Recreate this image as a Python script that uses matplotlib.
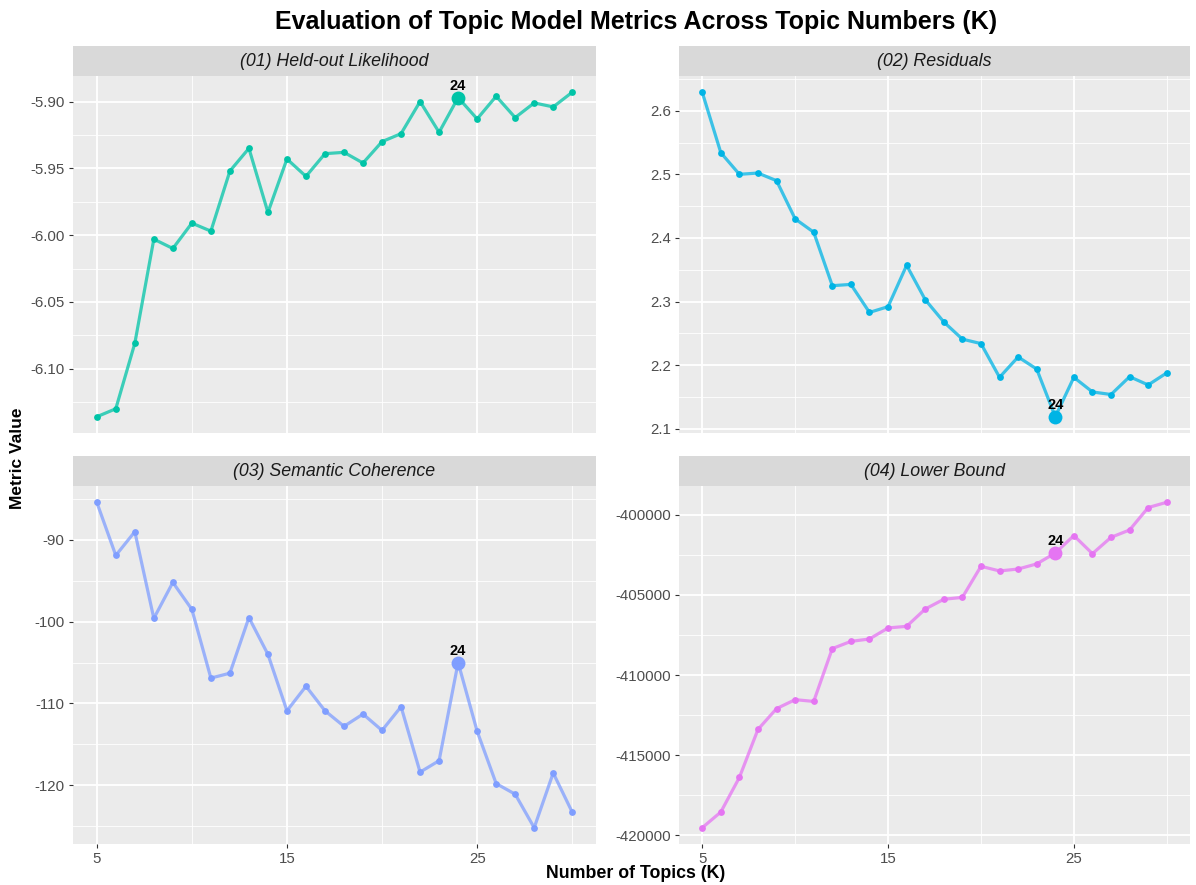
import numpy as np
import matplotlib
matplotlib.use("Agg")
import matplotlib.pyplot as plt
from matplotlib.ticker import FixedLocator, FuncFormatter

plt.rcParams['font.family'] = ['Liberation Sans', 'DejaVu Sans']

# ---- data ----
topics_k = list(range(5, 31))

heldout_likelihood = [-6.136, -6.130, -6.081, -6.003, -6.010, -5.991, -5.997, -5.952,
                      -5.935, -5.983, -5.943, -5.956, -5.939, -5.938, -5.946, -5.930,
                      -5.924, -5.900, -5.923, -5.897, -5.913, -5.896, -5.912, -5.901,
                      -5.904, -5.893]

residuals = [2.629, 2.534, 2.500, 2.502, 2.490, 2.430, 2.409, 2.325, 2.327, 2.283,
             2.292, 2.357, 2.303, 2.268, 2.241, 2.234, 2.181, 2.213, 2.194, 2.119,
             2.181, 2.158, 2.154, 2.182, 2.169, 2.188]

semantic_coherence = [-85.4, -91.9, -89.0, -99.6, -95.2, -98.5, -106.9, -106.3, -99.5,
                      -104.0, -110.9, -107.9, -110.9, -112.8, -111.3, -113.3, -110.4,
                      -118.4, -117.0, -105.0, -113.4, -119.8, -121.1, -125.2, -118.5,
                      -123.3]

lower_bound = [-419540, -418560, -416400, -413400, -412100, -411540, -411650, -408350,
               -407900, -407750, -407060, -406960, -405880, -405270, -405150, -403210,
               -403500, -403380, -403060, -402380, -401290, -402420, -401400, -400940,
               -399540, -399210]

panel_titles = ["(01) Held-out Likelihood", "(02) Residuals",
                "(03) Semantic Coherence", "(04) Lower Bound"]
panel_colors = ["#00C4A7", "#00B4E5", "#7F9EFF", "#E575F2"]
chosen_k = 24

y_major = [
    [-6.10, -6.05, -6.00, -5.95, -5.90],
    [2.1, 2.2, 2.3, 2.4, 2.5, 2.6],
    [-120, -110, -100, -90],
    [-420000, -415000, -410000, -405000, -400000],
]
y_fmt = ["{:.2f}", "{:.1f}", "{:.0f}", "{:.0f}"]
x_major = [5, 15, 25]
x_minor = [10, 20, 30]

series = [heldout_likelihood, residuals, semantic_coherence, lower_bound]

# ---- layout (pixel positions converted to figure fractions) ----
W, H = 1196, 885
fig = plt.figure(figsize=(W / 100, H / 100), dpi=100)
fig.patch.set_facecolor("white")

cols = [(73, 596), (679, 1190)]
rows = [(76, 433, 46), (486, 844, 456)]  # panel top, panel bottom, strip top

grey_panel = "#EBEBEB"
strip_grey = "#D9D9D9"


def expand(lo, hi, frac=0.05):
    span = hi - lo
    return lo - frac * span, hi + frac * span


for i, (vals, title, color) in enumerate(zip(series, panel_titles, panel_colors)):
    r, c = divmod(i, 2)
    x0, x1 = cols[c]
    ptop, pbot, stop = rows[r]
    ax = fig.add_axes([x0 / W, 1 - pbot / H, (x1 - x0) / W, (pbot - ptop) / H])
    sax = fig.add_axes([x0 / W, 1 - ptop / H, (x1 - x0) / W, (ptop - stop) / H])

    # facet strip
    sax.set_facecolor(strip_grey)
    sax.set_xticks([])
    sax.set_yticks([])
    for s in sax.spines.values():
        s.set_visible(False)
    sax.text(0.5, 0.5, title, transform=sax.transAxes, ha="center", va="center",
             fontsize=12.8, style="italic", color="#1A1A1A")

    ax.set_facecolor(grey_panel)
    for s in ax.spines.values():
        s.set_visible(False)

    k = np.array(topics_k)
    v = np.array(vals)
    ax.set_xlim(*expand(k.min(), k.max()))
    ylo, yhi = expand(v.min(), v.max())
    ax.set_ylim(ylo, yhi)

    # grid: majors and minors
    ax.xaxis.set_major_locator(FixedLocator(x_major))
    ax.xaxis.set_minor_locator(FixedLocator(x_minor))
    ym = y_major[i]
    step = ym[1] - ym[0]
    yminor = [ym[0] - step / 2] + [a + step / 2 for a in ym]
    yminor = [m for m in yminor if ylo <= m <= yhi]
    ax.yaxis.set_major_locator(FixedLocator(ym))
    ax.yaxis.set_minor_locator(FixedLocator(yminor))
    ax.grid(which="major", color="white", linewidth=1.3)
    ax.grid(which="minor", color="white", linewidth=0.6)
    ax.set_axisbelow(True)

    fmt = y_fmt[i]
    ax.yaxis.set_major_formatter(FuncFormatter(lambda val, pos, f=fmt: f.format(val)))
    ax.tick_params(axis="y", which="major", length=3, width=0.8, color="#333333",
                   labelsize=10.8, labelcolor="#4D4D4D", pad=3)
    ax.tick_params(which="minor", length=0)
    if r == 1:
        ax.tick_params(axis="x", which="major", length=3, width=0.8, color="#333333",
                       labelsize=10.8, labelcolor="#4D4D4D", pad=3)
    else:
        ax.tick_params(axis="x", which="major", length=0, labelbottom=False)

    ax.plot(k, v, color=color, linewidth=2.3, alpha=0.75, zorder=3,
            solid_capstyle="round")
    ax.scatter(k, v, s=24, color=color, zorder=4, linewidths=0)

    idx = topics_k.index(chosen_k)
    ax.scatter([chosen_k], [vals[idx]], s=100, color=color, zorder=5, linewidths=0)
    ax.annotate(str(chosen_k), (chosen_k, vals[idx]), xytext=(0, 3.5),
                textcoords="offset points", ha="center", va="bottom",
                fontsize=10.5, fontweight="bold", color="black", zorder=6)

centre_x = 636 / W
fig.text(centre_x, 1 - 22 / H, "Evaluation of Topic Model Metrics Across Topic Numbers (K)",
         ha="center", va="center", fontsize=18, fontweight="bold", color="black")
fig.text(centre_x, 1 - 873 / H, "Number of Topics (K)", ha="center", va="center",
         fontsize=12.8, fontweight="bold", color="black")
fig.text(18 / W, 1 - 458 / H, "Metric Value", ha="center", va="center",
         rotation=90, fontsize=12.5, fontweight="bold", color="black")

fig.savefig("out.png", dpi=100, facecolor="white")
